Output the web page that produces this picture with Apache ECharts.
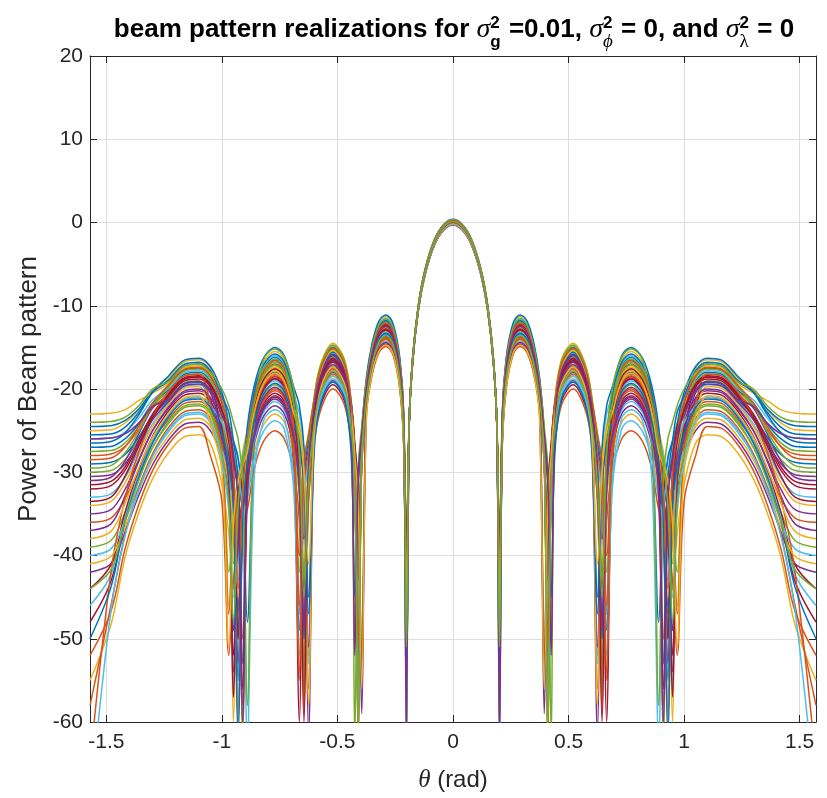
<!DOCTYPE html>
<html>
<head>
<meta charset="utf-8">
<script src="https://cdn.jsdelivr.net/npm/echarts@6/dist/echarts.min.js"></script>
<style>
html,body{margin:0;padding:0;background:#ffffff;}
#chart{width:827px;height:798px;}
</style>
</head>
<body>
<div id="chart"></div>
<script>
// theta grid (rad), right half; the pattern is symmetric about 0 (real gain errors only)
const thetaHalf = [0,0.04,0.08,0.12,0.15,0.175,0.19,0.2014,0.213,0.23,0.26,0.29,0.32,0.35,0.375,0.395,0.41,0.425,0.44,0.47,0.52,0.57,0.6,0.625,0.645,0.665,0.69,0.73,0.77,0.82,0.86,0.89,0.91,0.93,0.95,0.97,1.0,1.05,1.1,1.16,1.23,1.3,1.36,1.42,1.48,1.5708];

// power of beam pattern (dB) read at thetaHalf, one array per realization
const r01 = [0.2,-0.4,-2.2,-5.7,-10.1,-16.5,-24.4,-45,-24.3,-17.3,-13.1,-12.1,-12.8,-15.5,-19.7,-26.7,-52,-28.5,-22.4,-17.4,-15.5,-17.8,-21.7,-29.1,-48,-27.4,-21.2,-17.5,-16.5,-17.8,-21.1,-26,-32.7,-55,-31.2,-26,-22.1,-19,-18,-18.2,-20.1,-21.7,-24.2,-26,-26.9,-27];
const r02 = [-0.1,-0.7,-2.5,-6,-10.4,-16.8,-24.6,-50,-25.8,-18.8,-14.6,-13.6,-14.3,-17,-21.2,-27.9,-40,-30,-24.4,-19.4,-17.5,-19.8,-23.7,-28,-31.5,-55,-28,-21,-20,-21.3,-24.6,-32,-50,-35.5,-31,-27.5,-25.6,-22.5,-21.5,-21.7,-23.6,-26.3,-29.7,-33.2,-35.5,-36];
const r03 = [0.3,-0.3,-2.1,-5.6,-10,-16.4,-24.1,-38,-23.3,-16.5,-12.3,-11.3,-12,-14.7,-18.9,-25.9,-58,-27.5,-21.4,-16.4,-14.5,-16.8,-20.7,-28.1,-44,-26.3,-20.2,-16.5,-15.5,-16.8,-20.1,-25,-27.5,-32.5,-60,-28.5,-22.5,-17.5,-16.5,-16.7,-18.6,-20.1,-22.5,-24.1,-24.9,-25];
const r04 = [-0.3,-0.9,-2.7,-6.2,-10.6,-17,-24.7,-55,-26.8,-19.8,-15.6,-14.6,-15.3,-18,-22.2,-29.1,-46,-31.8,-25.9,-20.9,-19,-21.3,-25.2,-31.6,-38,-31.7,-26.7,-23,-22,-23.3,-26.6,-31.5,-37.5,-46,-36.7,-32,-28.1,-25,-24,-24.2,-26.1,-29.1,-32.8,-37.2,-41,-42];
const r05 = [0,-0.6,-2.4,-5.9,-10.3,-16.7,-24.4,-42,-24.9,-18,-13.8,-12.8,-13.5,-16.2,-20.4,-27.4,-62,-29.2,-23.1,-18.1,-16.2,-18.5,-24.2,-52,-29.5,-24.5,-22.2,-18.5,-17.5,-18.8,-22.1,-27,-28.5,-30.5,-35.5,-42,-28,-22.5,-19,-19.2,-21.1,-23.3,-26.1,-28.5,-29.8,-30];
const r06 = [0.1,-0.5,-2.3,-5.8,-10.2,-16.6,-24.6,-60,-26.1,-19.1,-14.9,-13.9,-14.6,-17.3,-21.5,-28.5,-50,-29.8,-23.7,-18.7,-16.8,-19.1,-23,-30.4,-45,-29.8,-23.7,-20,-19,-20.3,-27,-58,-33.5,-28.5,-26.5,-24.5,-22.5,-20.5,-19.5,-19.7,-21.6,-24.2,-27.4,-30.7,-32.6,-33];
const r07 = [-0.2,-0.8,-2.6,-6.1,-10.5,-16.9,-24.5,-48,-24.7,-17.7,-13.5,-12.5,-13.2,-15.9,-20.1,-27,-44,-30.8,-24.9,-19.9,-18,-20.3,-24.2,-28.5,-32,-60,-29,-22,-21,-22.3,-25.6,-30.5,-33,-38,-52,-33,-27,-22,-21,-21.2,-23.1,-26.3,-30.3,-35.7,-43.1,-48];
const r08 = [0.4,-0.2,-2,-5.5,-9.9,-16.3,-24.3,-40,-23.8,-16.9,-12.7,-11.7,-12.4,-15.1,-19.3,-26.3,-56,-28,-21.9,-16.9,-15,-17.3,-21.2,-28.7,-50,-27.1,-20.9,-17.2,-16.2,-17.5,-20.8,-25.7,-32.2,-47,-30.1,-25,-21.1,-18,-17,-17.2,-19.1,-20.3,-22.4,-23.8,-24.4,-24.5];
const r09 = [0,-0.6,-2.4,-5.9,-10.3,-16.7,-24.5,-53,-25.5,-18.5,-14.3,-13.3,-14,-16.7,-20.9,-27.9,-48,-29,-22.9,-17.9,-16,-18.3,-24,-56,-30.2,-25.2,-22.9,-19.2,-18.2,-19.5,-22.8,-30.2,-62,-32.5,-28,-24.5,-22.6,-19.5,-18.5,-18.7,-20.6,-22.3,-24.9,-26.9,-27.8,-28];
const r10 = [-0.1,-0.7,-2.5,-6,-10.4,-16.8,-24.6,-44,-26.2,-19.3,-15.1,-14.1,-14.8,-17.5,-21.7,-28.7,-54,-31.5,-25.4,-20.4,-18.5,-20.8,-24.7,-31.6,-41,-33.1,-27.7,-24,-23,-24.3,-27.6,-32.5,-35,-40,-44,-37.5,-31.5,-26.5,-25.5,-25.7,-27.6,-30.8,-34.9,-40.3,-48.3,-55];
const r11 = [0.2,-0.4,-2.2,-5.7,-10.1,-16.5,-24.4,-58,-24.4,-17.4,-13.2,-12.2,-12.9,-15.6,-19.8,-26.7,-42,-29.3,-23.4,-18.4,-16.5,-18.8,-22.7,-27,-30.5,-47,-25,-18,-17,-18.3,-21.6,-26.5,-33.1,-50,-30.7,-25.5,-21.6,-18.5,-17.5,-17.7,-19.6,-22.2,-25.4,-28.7,-30.6,-31];
const r12 = [-0.2,-0.8,-2.6,-6.1,-10.5,-16.9,-24.5,-46,-25.2,-18.2,-14,-13,-13.7,-16.4,-20.6,-27.6,-60,-30.3,-24.2,-19.2,-17.3,-19.6,-23.5,-31,-58,-30.4,-24.2,-20.5,-19.5,-20.8,-24.1,-31.5,-40,-36,-31.5,-28,-26.1,-23,-22,-22.2,-24.1,-27,-30.7,-34.9,-38.2,-39];
const r13 = [0.1,-0.5,-2.3,-5.8,-10.2,-16.6,-24.4,-50,-23.7,-16.7,-12.5,-11.5,-12.2,-14.9,-19.1,-26.1,-47,-28.2,-22.1,-17.1,-15.2,-17.5,-23.2,-53,-28,-23,-20.7,-17,-16,-17.3,-20.6,-25.5,-28,-33,-56,-29.8,-23.8,-18.8,-17.8,-18,-19.9,-21.3,-23.5,-25.2,-25.9,-26];
const r14 = [0,-0.6,-2.4,-5.9,-10.3,-16.7,-24.6,-41,-25.8,-18.9,-14.7,-13.7,-14.4,-17.1,-21.3,-28.3,-55,-32.5,-26.4,-21.4,-19.5,-21.8,-25.7,-32.8,-43,-31.1,-25.2,-21.5,-20.5,-21.8,-25.1,-30,-36.7,-60,-33.7,-28.5,-24.6,-21.5,-20.5,-20.7,-22.6,-25.7,-29.7,-34.9,-41.1,-44];
const r15 = [0.3,-0.3,-2.1,-5.6,-10,-16.4,-24.5,-62,-24.9,-17.9,-13.7,-12.7,-13.4,-16.1,-20.3,-27.2,-43,-28.6,-22.7,-17.7,-15.8,-18.1,-22,-26.3,-29.8,-49,-26,-19,-18,-19.3,-26,-48,-33.2,-28.2,-26.2,-24.2,-22.2,-20.2,-19.2,-19.4,-21.3,-23.2,-25.8,-27.9,-28.8,-29];
const r16 = [-0.3,-0.9,-2.7,-6.2,-10.6,-17,-24.8,-47,-27.1,-20.1,-15.9,-14.9,-15.6,-18.3,-22.5,-29.5,-51,-33,-26.9,-21.9,-20,-22.3,-26.2,-33.7,-57,-35.9,-29.7,-26,-25,-26.3,-29.6,-34.5,-36,-38,-43,-52,-33.5,-28,-24.5,-24.7,-26.6,-29.8,-33.9,-39.3,-46.7,-52];
const r17 = [0.1,-0.5,-2.3,-5.8,-10.2,-16.6,-24.4,-43,-24.1,-17.1,-12.9,-11.9,-12.6,-15.3,-19.5,-26.5,-58,-30,-23.9,-18.9,-17,-19.3,-23.2,-30.6,-46,-28,-21.9,-18.2,-17.2,-18.5,-21.8,-26.7,-33.1,-45,-30.3,-25.2,-21.3,-18.2,-17.2,-17.4,-19.3,-20.5,-21.4,-22.5,-22.9,-23];
const r18 = [0,-0.6,-2.4,-5.9,-10.3,-16.7,-24.5,-56,-25.6,-18.6,-14.4,-13.4,-14.1,-16.8,-21,-27.9,-45,-29.3,-23.3,-18.3,-16.4,-18.7,-24.4,-61,-30.7,-25.7,-23.4,-19.7,-18.7,-20,-23.3,-28.2,-30.7,-35.7,-54,-32.2,-26.2,-21.2,-20.2,-20.4,-22.3,-25,-28.5,-32.1,-34.5,-35];
const r19 = [0.2,-0.4,-2.2,-5.7,-10.1,-16.5,-24.4,-49,-24.6,-17.6,-13.4,-12.4,-13.1,-15.8,-20,-27,-53,-27.8,-21.7,-16.7,-14.8,-17.1,-21,-25.3,-28.8,-42,-24.8,-17.8,-16.8,-18.1,-21.4,-28.8,-61,-32.2,-27.7,-24.2,-22.3,-19.2,-18.2,-18.4,-20.3,-22,-24.5,-26.5,-27.4,-27.5];
const r20 = [-0.1,-0.7,-2.5,-6,-10.4,-16.8,-24.6,-52,-26.5,-19.5,-15.3,-14.3,-15,-17.7,-21.9,-28.6,-41,-30.4,-24.7,-19.7,-17.8,-20.1,-24,-31.4,-50,-32.3,-26.2,-22.5,-21.5,-22.8,-26.1,-31,-36.6,-43,-35.4,-31,-27.1,-24,-23,-23.2,-25.1,-28,-31.7,-35.9,-39.2,-40];
const r21 = [0,-0.6,-2.4,-5.9,-10.3,-16.7,-24.3,-39,-24.9,-18.1,-13.9,-12.9,-13.6,-16.3,-20.5,-27.5,-57,-29.7,-23.6,-18.6,-16.7,-19,-22.9,-30.4,-54,-29.4,-23.2,-19.5,-18.5,-19.8,-23.1,-28,-30.5,-35.5,-57,-30.8,-24.8,-19.8,-18.8,-19,-20.9,-23.4,-26.6,-29.8,-31.6,-32];
const r22 = [0.2,-0.4,-2.2,-5.7,-10.1,-16.5,-24.3,-57,-23.3,-16.3,-12.1,-11.1,-11.8,-14.5,-18.7,-25.7,-49,-28.6,-22.5,-17.5,-15.6,-17.9,-23.6,-45,-27,-22,-19.7,-16,-15,-16.3,-19.6,-24.5,-31.1,-49,-29.5,-24.3,-20.4,-17.3,-16.3,-16.5,-18.4,-20.4,-23.1,-25.3,-26.3,-26.5];
const r23 = [-0.2,-0.8,-2.6,-6.1,-10.5,-16.9,-24.6,-45,-26.2,-19.2,-15,-14,-14.7,-17.4,-21.6,-28.6,-62,-31.2,-25.1,-20.1,-18.2,-20.5,-24.4,-28.7,-32.2,-40,-28.2,-21.2,-20.2,-21.5,-24.8,-32.2,-58,-36.5,-32,-28.5,-26.6,-23.5,-22.5,-22.7,-24.6,-27.8,-31.9,-37.5,-46,-58];
const r24 = [0.1,-0.5,-2.3,-5.8,-10.2,-16.6,-24.5,-61,-24.8,-17.8,-13.6,-12.6,-13.3,-16,-20.2,-27.1,-44,-29,-23,-18,-16.1,-18.4,-22.3,-29.8,-59,-28.7,-22.5,-18.8,-17.8,-19.1,-22.4,-27.3,-28.8,-30.8,-35.8,-46,-28.7,-23.2,-19.7,-19.9,-21.8,-24.5,-27.9,-31.3,-33.5,-34];
const r25 = [0,-0.6,-2.4,-5.9,-10.3,-16.7,-24.5,-48,-25.7,-18.7,-14.5,-13.5,-14.2,-16.9,-21.1,-28.1,-52,-30.1,-24,-19,-17.1,-19.4,-25.1,-51,-31.8,-26.8,-24.5,-20.8,-19.8,-21.1,-24.4,-29.3,-35.9,-53,-33.2,-28,-24.1,-21,-20,-20.2,-22.1,-25,-28.7,-32.9,-36.2,-37];
const r26 = [0.3,-0.3,-2.1,-5.6,-10,-16.4,-24.4,-42,-24.1,-17.2,-13,-12,-12.7,-15.4,-19.6,-26.6,-46,-28.2,-22.2,-17.2,-15.3,-17.6,-21.5,-29,-56,-27.3,-21.1,-17.4,-16.4,-17.7,-21,-25.9,-28.4,-33.4,-41,-29.6,-23.6,-18.6,-17.6,-17.8,-19.7,-22,-25.1,-27.7,-29.2,-29.5];
const r27 = [-0.1,-0.7,-2.5,-6,-10.4,-16.8,-24.5,-54,-25.4,-18.4,-14.2,-13.2,-13.9,-16.6,-20.8,-27.8,-59,-31.8,-25.7,-20.7,-18.8,-21.1,-25,-29.3,-32.8,-47,-30.5,-23.5,-22.5,-23.8,-30.5,-62,-35,-30,-28,-26,-24,-22,-21,-21.2,-23.1,-26.3,-30.3,-35.6,-42.3,-46];
const r28 = [0,-0.6,-2.4,-5.9,-10.3,-16.7,-24.4,-50,-24.5,-17.5,-13.3,-12.3,-13,-15.7,-19.9,-26.8,-43,-29.4,-23.5,-18.5,-16.6,-18.9,-22.8,-30.1,-44,-29.5,-23.5,-19.8,-18.8,-20.1,-23.4,-28.3,-34.9,-50,-31.6,-26.4,-22.5,-19.4,-18.4,-18.6,-20.5,-23,-26.2,-29.4,-31.1,-31.5];
const r29 = [0.1,-0.5,-2.3,-5.8,-10.2,-16.6,-24.4,-52,-24,-17,-12.8,-11.8,-12.5,-15.2,-20.7,-55,-32,-26.5,-21.8,-17.9,-16,-18.3,-22.2,-29.7,-50,-26.7,-20.5,-16.8,-15.8,-17.1,-20.4,-27.8,-53,-30.8,-26.3,-22.8,-20.9,-17.8,-16.8,-17,-18.9,-20.4,-22.8,-24.6,-25.4,-25.5];
const r30 = [-0.1,-0.7,-2.5,-6,-10.4,-16.8,-24.6,-44,-25.9,-19,-14.8,-13.8,-14.5,-17.2,-21.4,-26.7,-31.7,-50,-26.6,-19.5,-17.6,-19.9,-23.8,-28.1,-31.6,-46,-26.4,-19.4,-18.4,-19.7,-23,-27.9,-29.4,-31.4,-36.4,-47,-27.2,-21.7,-18.2,-18.4,-20.3,-23.5,-27.6,-33.2,-42,-65];
const r31 = [0.2,-0.4,-2.2,-5.7,-10.1,-16.5,-24.5,-58,-24.8,-17.8,-13.6,-12.6,-13.3,-16,-20.2,-27.1,-46,-28.3,-22.3,-17.3,-15.4,-17.7,-23.4,-58,-29.4,-24.4,-22.1,-18.4,-17.4,-18.7,-22,-26.9,-33.6,-60,-36.7,-31.5,-27.6,-24.5,-23.5,-23.7,-25.6,-28.5,-32.3,-36.6,-40.1,-41];
const r32 = [0,-0.6,-2.4,-5.9,-10.3,-16.7,-24.6,-50,-26.6,-19.6,-15.4,-14.4,-15.1,-17.8,-23.3,-59,-32.8,-27.3,-22.6,-18.7,-16.8,-19.1,-23,-30.4,-48,-32,-25.9,-22.2,-21.2,-22.5,-25.8,-30.7,-33.2,-38.2,-49,-31.4,-25.4,-20.4,-19.4,-19.6,-21.5,-23.7,-26.5,-29,-30.3,-30.5];
const r33 = [0.3,-0.3,-2.1,-5.6,-10,-16.4,-24.3,-47,-23.8,-16.8,-12.6,-11.6,-12.3,-15,-19.2,-24.5,-29.5,-62,-23.7,-16.6,-14.7,-17,-20.9,-28.2,-43,-26,-19.9,-16.2,-15.2,-16.5,-23.2,-58,-31,-26,-24,-22,-20,-18,-17,-17.2,-19.1,-20,-22,-23.4,-23.9,-24];
const r34 = [-0.2,-0.8,-2.6,-6.1,-10.5,-16.9,-24.5,-60,-25.7,-18.7,-14.5,-13.5,-14.2,-16.9,-21.1,-28.1,-48,-31.3,-25.3,-20.3,-18.4,-20.7,-24.6,-28.9,-32.4,-52,-31.8,-24.8,-23.8,-25.1,-28.4,-33.3,-35.8,-40.8,-45,-34.8,-28.8,-23.8,-22.8,-23,-24.9,-28.1,-32.2,-37.8,-46.6,-70];
const r35 = [0,-0.6,-2.4,-5.9,-10.3,-16.7,-24.4,-43,-24.9,-18,-13.8,-12.8,-13.5,-16.2,-21.7,-53,-32.3,-26.8,-22.1,-18.2,-16.3,-18.6,-22.5,-30,-60,-28.5,-22.3,-18.6,-17.6,-18.9,-22.2,-29.6,-56,-32.6,-28.1,-24.6,-22.7,-19.6,-18.6,-18.8,-20.7,-23.5,-26.9,-30.5,-33,-33.5];
const r36 = [0.1,-0.5,-2.3,-5.8,-10.2,-16.6,-24.5,-55,-25.5,-18.5,-14.3,-13.3,-14,-16.7,-20.9,-26.2,-31.2,-45,-28.2,-21.1,-19.2,-21.5,-27.2,-47,-31.3,-26.3,-24,-20.3,-19.3,-20.6,-23.9,-28.8,-35.5,-62,-34.4,-29.2,-25.3,-22.2,-21.2,-21.4,-23.3,-26.5,-30.6,-36,-43.8,-50];
const r37 = [0.2,-0.4,-2.2,-5.7,-10.1,-16.5,-24.4,-49,-24.3,-17.3,-13.1,-12.1,-12.8,-15.5,-19.7,-26.7,-51,-28.1,-22,-17,-15.1,-17.4,-21.3,-25.6,-29.1,-54,-24.6,-17.6,-16.6,-17.9,-21.2,-26.1,-32.5,-44,-30.4,-25.4,-21.5,-18.4,-17.4,-17.6,-19.5,-21.7,-24.5,-27,-28.3,-28.5];
const r38 = [-0.1,-0.7,-2.5,-6,-10.4,-16.8,-24.6,-46,-26.9,-19.9,-15.7,-14.7,-15.4,-18.1,-23.6,-56,-33.4,-27.9,-23.2,-19.3,-17.4,-19.7,-25.4,-41,-30.1,-25.1,-22.8,-19.1,-18.1,-19.4,-22.7,-27.6,-29.1,-31.1,-36.1,-51,-29.8,-24.3,-20.8,-21,-22.9,-25.8,-29.5,-33.8,-37.1,-38];
const r39 = [0,-0.6,-2.4,-5.9,-10.3,-16.7,-24.5,-62,-24.7,-17.7,-13.5,-12.5,-13.2,-15.9,-20.1,-25.4,-30.4,-52,-24.9,-17.8,-15.9,-18.2,-22.1,-29.6,-49,-31.7,-25.5,-21.8,-20.8,-22.1,-25.4,-32.8,-60,-33.1,-28.6,-25.1,-23.2,-20.1,-19.1,-19.3,-21.2,-22.1,-24.1,-25.4,-25.9,-26];
const r40 = [0.1,-0.5,-2.3,-5.8,-10.2,-16.6,-24.5,-51,-25.8,-18.8,-14.6,-13.6,-14.3,-17,-21.2,-28.2,-61,-30.9,-24.8,-19.8,-17.9,-20.2,-24.1,-31.4,-45,-27.9,-21.8,-18.1,-17.1,-18.4,-21.7,-26.6,-29.1,-34.1,-48,-33.8,-27.8,-22.8,-21.8,-22,-23.9,-27,-31,-36,-41.7,-44];

const realizations = [r01,r02,r03,r04,r05,r06,r07,r08,r09,r10,r11,r12,r13,r14,r15,r16,r17,r18,r19,r20,
                      r21,r22,r23,r24,r25,r26,r27,r28,r29,r30,r31,r32,r33,r34,r35,r36,r37,r38,r39,r40];

const X_LIMIT = 1.5708;
const Y_MIN = -60, Y_MAX = 20, Y_STEP = 10;
const palette = ['#0072BD','#D95319','#EDB120','#7E2F8E','#77AC30','#4DBEEE','#A2142F'];

function mirrored(vals) {
  const pts = [];
  for (let i = thetaHalf.length - 1; i > 0; i--) pts.push([-thetaHalf[i], vals[i]]);
  for (let i = 0; i < thetaHalf.length; i++) pts.push([thetaHalf[i], vals[i]]);
  return pts;
}

const series = realizations.map((vals, k) => ({
  type: 'line',
  data: mirrored(vals),
  xAxisIndex: 0,
  yAxisIndex: 0,
  showSymbol: false,
  symbol: 'none',
  smooth: 0.35,
  clip: true,
  silent: true,
  lineStyle: { width: 1.5, color: palette[k % palette.length] },
  itemStyle: { color: palette[k % palette.length] }
}));

// ---- title with stacked super/subscripts ----
const AXIS_FONT = '"Liberation Sans", Arial, Helvetica, sans-serif';
const F_MAIN = 'bold 26px ' + AXIS_FONT;
const F_SIG = 'italic 28px "Liberation Serif", "Times New Roman", serif';
const F_SUP = 'bold 17px ' + AXIS_FONT;
const F_SUBI = 'italic 19px "Liberation Serif", "DejaVu Serif", serif';
const F_SUBL = '19px "Liberation Serif", "DejaVu Serif", serif';
const Y_MAIN = 29.5, Y_SUP = 23, Y_SUB = 42;
const titlePieces = [
  { text: 'beam pattern realizations for ', font: F_MAIN, y: Y_MAIN },
  { text: 'σ', font: F_SIG, y: Y_MAIN },
  { stack: [{ text: '2', font: F_SUP, y: Y_SUP }, { text: 'g', font: F_SUP, y: Y_SUB }] },
  { text: ' =0.01, ', font: F_MAIN, y: Y_MAIN },
  { text: 'σ', font: F_SIG, y: Y_MAIN },
  { stack: [{ text: '2', font: F_SUP, y: Y_SUP }, { text: 'ϕ', font: F_SUBI, y: Y_SUB }] },
  { text: ' = 0, and ', font: F_MAIN, y: Y_MAIN },
  { text: 'σ', font: F_SIG, y: Y_MAIN },
  { stack: [{ text: '2', font: F_SUP, y: Y_SUP }, { text: 'λ', font: F_SUBL, y: Y_SUB }] },
  { text: ' = 0', font: F_MAIN, y: Y_MAIN }
];
const mctx = document.createElement('canvas').getContext('2d');
function textWidth(t, f) { mctx.font = f; return mctx.measureText(t).width; }
function pieceWidth(p) {
  if (p.stack) return Math.max.apply(null, p.stack.map(s => textWidth(s.text, s.font))) + 1;
  return textWidth(p.text, p.font);
}
const titleTotal = titlePieces.reduce((a, p) => a + pieceWidth(p), 0);
const TITLE_CENTER = 454;
let cx = TITLE_CENTER - titleTotal / 2;
const titleElements = [];
titlePieces.forEach(p => {
  const parts = p.stack ? p.stack : [p];
  parts.forEach(s => {
    titleElements.push({
      type: 'text', x: cx, y: s.y, silent: true,
      style: { text: s.text, font: s.font, fill: '#000000', align: 'left', verticalAlign: 'middle', textAlign: 'left', textVerticalAlign: 'middle' }
    });
  });
  cx += pieceWidth(p);
});

function xLabel(v) {
  if (Math.abs(Math.abs(v) - X_LIMIT) < 1e-6) return '';
  return String(Math.round(v * 10) / 10);
}

const chart = echarts.init(document.getElementById('chart'), null, { renderer: 'canvas' });
chart.setOption({
  animation: false,
  backgroundColor: '#ffffff',
  color: palette,
  grid: { left: 90, right: 11, top: 56, bottom: 71, containLabel: false },
  xAxis: [
    {
      type: 'value', position: 'bottom', min: -X_LIMIT, max: X_LIMIT,
      name: '{i|θ} (rad)', nameLocation: 'middle', nameGap: 46,
      nameTextStyle: { fontSize: 24, color: '#262626', fontFamily: AXIS_FONT,
        rich: { i: { fontSize: 25, fontStyle: 'italic', fontFamily: '"Liberation Serif", "Times New Roman", serif', color: '#262626' } } },
      axisLine: { show: true, onZero: false, lineStyle: { color: '#262626', width: 1 } },
      axisTick: { show: true, inside: true, length: 7, lineStyle: { color: '#262626' } },
      axisLabel: { show: true, fontSize: 21, color: '#262626', fontFamily: AXIS_FONT, margin: 10, formatter: xLabel },
      splitLine: { show: true, lineStyle: { color: '#dedede', width: 1 } }
    },
    {
      type: 'value', position: 'top', min: -X_LIMIT, max: X_LIMIT,
      axisLine: { show: true, onZero: false, lineStyle: { color: '#262626', width: 1 } },
      axisTick: { show: true, inside: true, length: 7, lineStyle: { color: '#262626' } },
      axisLabel: { show: false },
      splitLine: { show: false }
    }
  ],
  yAxis: [
    {
      type: 'value', position: 'left', min: Y_MIN, max: Y_MAX, interval: Y_STEP,
      name: 'Power of Beam pattern', nameLocation: 'middle', nameGap: 47,
      nameTextStyle: { fontSize: 26, color: '#262626', fontFamily: AXIS_FONT },
      axisLine: { show: true, onZero: false, lineStyle: { color: '#262626', width: 1 } },
      axisTick: { show: true, inside: true, length: 7, lineStyle: { color: '#262626' } },
      axisLabel: { show: true, fontSize: 21, color: '#262626', fontFamily: AXIS_FONT, margin: 7 },
      splitLine: { show: true, lineStyle: { color: '#dedede', width: 1 } }
    },
    {
      type: 'value', position: 'right', min: Y_MIN, max: Y_MAX, interval: Y_STEP,
      axisLine: { show: true, onZero: false, lineStyle: { color: '#262626', width: 1 } },
      axisTick: { show: true, inside: true, length: 7, lineStyle: { color: '#262626' } },
      axisLabel: { show: false },
      splitLine: { show: false }
    }
  ],
  graphic: titleElements,
  series: series
});
</script>
</body>
</html>
